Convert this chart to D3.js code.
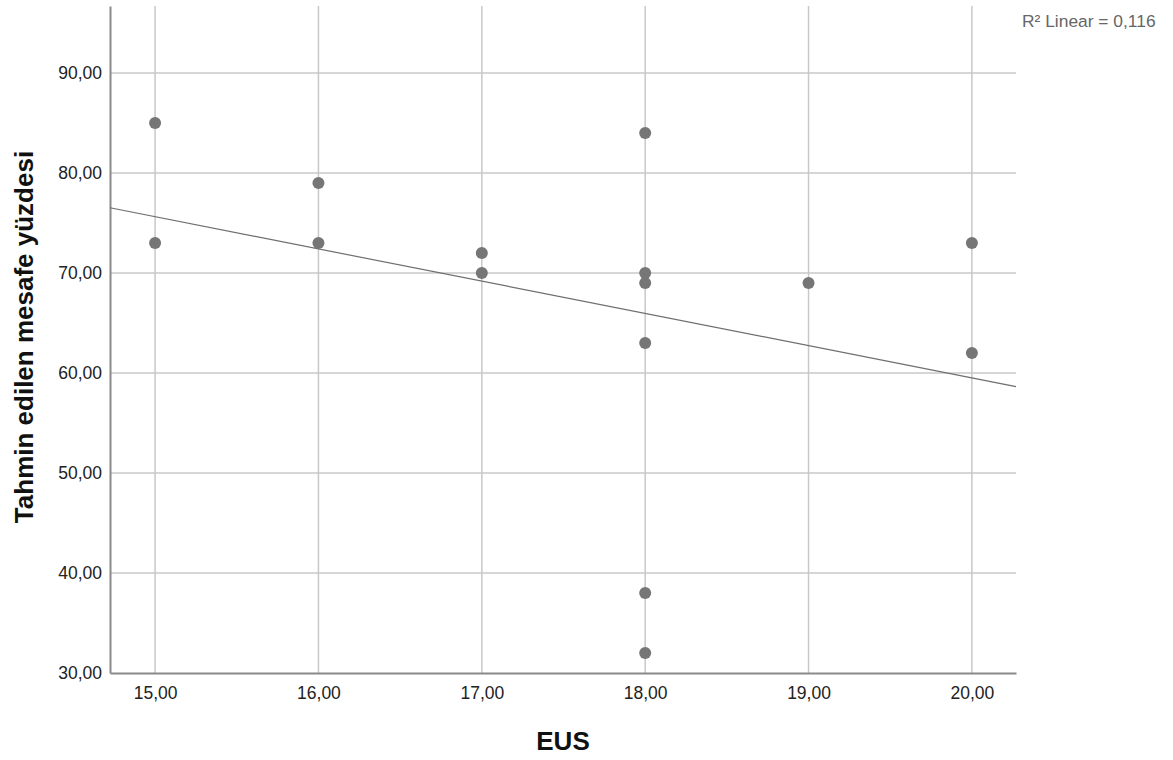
<!DOCTYPE html>
<html>
<head>
<meta charset="utf-8">
<script src="https://cdn.jsdelivr.net/npm/d3@7"></script>
<style>
  body { margin: 0; background: #fff; }
  text { font-family: "Liberation Sans", Arial, sans-serif; }
</style>
</head>
<body>
<div id="graph"></div>
<script>
// EUS values and the matching estimated distance percentages
const eus = [15, 15, 16, 16, 17, 17, 18, 18, 18, 18, 18, 18, 19, 20, 20];
const percent = [85, 73, 79, 73, 72, 70, 84, 70, 69, 63, 38, 32, 69, 73, 62];
const xTicks = [15, 16, 17, 18, 19, 20];
const yTicks = [30, 40, 50, 60, 70, 80, 90];
const xLabel = "EUS";
const yLabel = "Tahmin edilen mesafe yüzdesi";
const fitLabel = "R² Linear = 0,116";

const width = 1173, height = 760;
const margin = { top: 6, right: 157, bottom: 87, left: 110 };
const w = width - margin.left - margin.right;
const h = height - margin.top - margin.bottom;

const svg = d3.select("#graph")
  .append("svg")
  .attr("width", width)
  .attr("height", height);

const g = svg.append("g")
  .attr("transform", "translate(" + margin.left + "," + margin.top + ")");

const x = d3.scaleLinear().domain([14.724, 20.27]).range([0, w]);
const y = d3.scaleLinear().domain([30, 96.7]).range([h, 0]);

const comma = d => d3.format(".2f")(d).replace(".", ",");

// gridlines
g.selectAll(".hgrid")
  .data(yTicks.filter(d => d > 30))
  .enter()
  .append("line")
    .attr("x1", 0).attr("x2", w)
    .attr("y1", d => y(d)).attr("y2", d => y(d))
    .attr("stroke", "#c8c8c8")
    .attr("stroke-width", 1.5);

g.selectAll(".vgrid")
  .data(xTicks)
  .enter()
  .append("line")
    .attr("x1", d => x(d)).attr("x2", d => x(d))
    .attr("y1", 0).attr("y2", h)
    .attr("stroke", "#c8c8c8")
    .attr("stroke-width", 1.5);

// axes
const xAxis = g.append("g")
  .attr("transform", "translate(0," + h + ")")
  .call(d3.axisBottom(x).tickValues(xTicks).tickFormat(comma).tickSize(0).tickPadding(14));
const yAxis = g.append("g")
  .call(d3.axisLeft(y).tickValues(yTicks).tickFormat(comma).tickSize(0).tickPadding(8));

[xAxis, yAxis].forEach(a => {
  a.select(".domain").attr("stroke", "#8a8a8a").attr("stroke-width", 2);
  a.selectAll("text")
    .attr("fill", "#222")
    .style("font-size", "17.5px")
    .style("font-family", "'Liberation Sans', Arial, sans-serif");
});

// linear fit
const mx = d3.mean(eus), my = d3.mean(percent);
const sxy = d3.sum(eus, (d, i) => (d - mx) * (percent[i] - my));
const sxx = d3.sum(eus, d => (d - mx) * (d - mx));
const slope = sxy / sxx;
const intercept = my - slope * mx;
const [x0, x1] = x.domain();

g.append("line")
  .attr("x1", x(x0)).attr("y1", y(intercept + slope * x0))
  .attr("x2", x(x1)).attr("y2", y(intercept + slope * x1))
  .attr("stroke", "#6e6e6e")
  .attr("stroke-width", 1.2);

// points
g.selectAll(".dot")
  .data(eus)
  .enter()
  .append("circle")
    .attr("cx", d => x(d))
    .attr("cy", (d, i) => y(percent[i]))
    .attr("r", 6)
    .attr("fill", "#767676");

// labels
svg.append("text")
  .attr("x", margin.left + w / 2)
  .attr("y", 750)
  .attr("text-anchor", "middle")
  .style("font-size", "26px")
  .style("font-weight", "bold")
  .attr("fill", "#111")
  .text(xLabel);

svg.append("text")
  .attr("transform", "translate(33,337)rotate(-90)")
  .attr("text-anchor", "middle")
  .style("font-size", "26px")
  .style("font-weight", "bold")
  .attr("fill", "#111")
  .text(yLabel);

svg.append("text")
  .attr("x", 1022)
  .attr("y", 27)
  .style("font-size", "17.4px")
  .attr("fill", "#666")
  .text(fitLabel);
</script>
</body>
</html>
